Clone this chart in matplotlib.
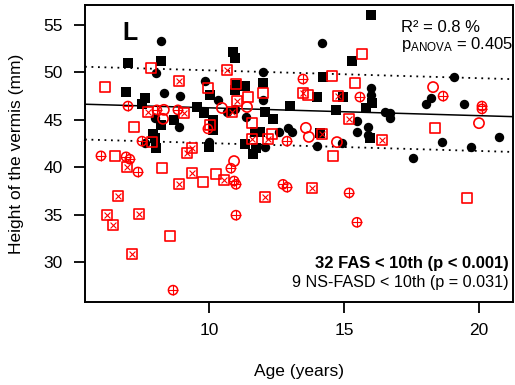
import matplotlib

matplotlib.use("Agg")
import matplotlib.pyplot as plt
import numpy as np

plt.rcParams["font.family"] = ["Liberation Sans", "DejaVu Sans"]
plt.rcParams["mathtext.fontset"] = "custom"
plt.rcParams["mathtext.rm"] = "Liberation Sans"
plt.rcParams["mathtext.it"] = "Liberation Sans:italic"

# controls (black)
ctrl_sq_age = [7.0, 8.22, 6.93, 7.63, 7.52, 9.56, 9.81, 10.15, 10.15, 10.04,
               8.22, 8.70, 7.93, 8.0, 8.04, 10.0, 10.89, 10.96, 11.0, 11.33,
               10.96, 12.0, 13.0, 12.07, 12.37, 11.7, 11.89, 11.33, 11.74, 11.63,
               14.0, 14.96, 14.22, 15.3, 16.0, 14.7, 15.81, 16.04, 14.11, 15.96]
ctrl_sq_h = [51.0, 51.2, 47.9, 47.3, 46.7, 46.35, 45.7, 45.0, 43.9, 47.6,
             44.45, 45.0, 43.5, 43.1, 42.0, 42.1, 52.15, 51.5, 48.7, 48.6,
             48.15, 48.9, 46.45, 45.8, 45.1, 43.7, 43.7, 42.45, 42.0, 41.4,
             47.4, 47.4, 49.5, 51.2, 56.05, 46.0, 46.25, 46.8, 43.6, 43.1]

ctrl_ci_age = [8.22, 8.04, 8.33, 8.93, 9.85, 10.33, 8.0, 8.89, 10.67, 10.0,
               7.63, 10.96, 12.0, 12.0, 11.37, 12.59, 12.93, 13.07, 12.07, 14.19,
               16.0, 16.0, 16.52, 16.7, 16.7, 15.48, 15.48, 15.89, 15.89, 14.0,
               14.93, 19.07, 18.22, 18.04, 19.44, 18.63, 19.7, 20.74, 17.56]
ctrl_ci_h = [53.3, 49.95, 47.8, 47.5, 49.1, 47.1, 45.2, 44.25, 45.8, 42.65,
             42.55, 46.1, 50.05, 47.1, 45.3, 43.7, 44.15, 43.7, 42.1, 53.1,
             48.35, 47.6, 45.8, 45.7, 45.2, 44.9, 43.7, 44.25, 43.4, 42.2,
             42.55, 49.5, 47.3, 46.7, 46.7, 42.65, 42.1, 43.2, 41.0]

# FASD groups (red)
sq_age = [6.15, 7.85, 9.96, 7.22, 10.04, 7.89, 6.52, 8.26, 9.78, 10.26,
          8.56, 11.0, 11.44, 12.0, 11.59, 12.33, 13.67, 14.56, 15.41, 15.67,
          14.59, 18.37, 19.56]
sq_h = [48.45, 50.45, 48.35, 44.25, 44.45, 42.65, 41.2, 39.9, 38.45, 39.3,
        32.75, 48.8, 47.4, 47.8, 44.65, 43.5, 47.6, 49.6, 48.9, 51.95,
        41.2, 44.15, 36.75]

ci_age = [8.33, 8.30, 10.48, 11.41, 10.93, 13.59, 13.7, 14.74, 18.3, 20.0]
ci_h = [46.05, 45.1, 46.25, 46.35, 40.65, 44.15, 43.2, 42.65, 48.45, 44.65]

sqx_age = [8.89, 10.67, 7.74, 9.07, 10.85, 11.04, 13.48, 14.78, 15.19, 16.41,
           14.19, 11.59, 12.19, 9.19, 9.37, 6.96, 9.37, 8.89, 10.56, 6.63,
           6.22, 6.44, 7.41, 7.15, 12.07, 13.81]
sqx_h = [49.1, 50.25, 45.8, 45.7, 45.8, 47.0, 47.8, 47.5, 45.1, 42.85,
         43.5, 43.0, 43.0, 41.5, 42.0, 40.0, 39.4, 38.2, 38.65, 37.0,
         34.95, 33.9, 35.05, 30.85, 36.85, 37.8]

cip_age = [7.0, 8.07, 8.85, 9.96, 7.52, 6.0, 6.93, 7.07, 7.37, 10.81,
           10.93, 11.0, 11.0, 8.67, 12.74, 12.89, 15.19, 15.48, 13.48, 15.59,
           18.67, 20.11, 20.11, 12.89]
cip_h = [46.45, 46.05, 46.05, 44.05, 42.75, 41.2, 41.1, 40.85, 39.5, 39.9,
         38.55, 38.2, 34.95, 27.05, 38.2, 37.9, 37.3, 34.2, 49.3, 47.4,
         47.5, 46.45, 46.15, 42.75]

# regression on controls, with 10th/90th percentile band
fit_intercept = 47.09
fit_slope = -0.0826
band_hi = 3.95
band_lo = -3.72

RED = "#ff0000"

fig = plt.figure(figsize=(5.15, 3.85), dpi=100)
ax = fig.add_axes([85 / 515, 83 / 385, 428 / 515, 297 / 385])

xs = np.array([5.41, 21.26])
yfit = fit_intercept + fit_slope * xs
ax.plot(xs, yfit, color="black", lw=1.1, zorder=1)
ax.plot(xs, yfit + band_hi, color="black", lw=1.3, ls=(0, (1, 2.6)), zorder=1)
ax.plot(xs, yfit + band_lo, color="black", lw=1.3, ls=(0, (1, 2.6)), zorder=1)

ax.scatter(ctrl_sq_age, ctrl_sq_h, marker="s", s=52, color="black", lw=0, zorder=2)
ax.scatter(ctrl_ci_age, ctrl_ci_h, marker="o", s=46, color="black", lw=0, zorder=2)

ax.scatter(sq_age, sq_h, marker="s", s=54, facecolor="none", edgecolor=RED, lw=1.2, zorder=3)
ax.scatter(ci_age, ci_h, marker="o", s=54, facecolor="none", edgecolor=RED, lw=1.2, zorder=3)
ax.scatter(sqx_age, sqx_h, marker="s", s=54, facecolor="none", edgecolor=RED, lw=1.2, zorder=3)
ax.scatter(sqx_age, sqx_h, marker="x", s=18, color=RED, lw=0.8, zorder=3)
ax.scatter(cip_age, cip_h, marker="o", s=44, facecolor="none", edgecolor=RED, lw=1.1, zorder=3)
ax.scatter(cip_age, cip_h, marker="+", s=44, color=RED, lw=0.8, zorder=3)

ax.set_xlim(5.41, 21.26)
ax.set_ylim(25.8, 57.1)
ax.set_xticks([10, 15, 20])
ax.set_yticks([30, 35, 40, 45, 50, 55])
ax.tick_params(direction="out", length=8, width=1.3, labelsize=12.5, pad=7)
ax.tick_params(axis="y", pad=8)
for sp in ax.spines.values():
    sp.set_linewidth(1.4)

ax.set_xlabel("Age (years)", fontsize=12.5, labelpad=19)
ax.set_ylabel("Height of the vermis (mm)", fontsize=12.5, labelpad=14)

ax.text(0.105, 0.905, "L", transform=ax.transAxes, fontsize=18, fontweight="bold",
        ha="center", va="center")
ax.text(0.738, 0.925, "R\u00b2 = 0.8 %", transform=ax.transAxes, fontsize=12, va="center")
ax.text(0.738, 0.868, r"p$_{\mathrm{ANOVA}}$ = 0.405", transform=ax.transAxes,
        fontsize=12, va="center")
ax.text(0.99, 0.131, "32 FAS < 10th (p < 0.001)", transform=ax.transAxes, fontsize=11.9,
        fontweight="bold", ha="right", va="center")
ax.text(0.99, 0.064, "9 NS-FASD < 10th (p = 0.031)", transform=ax.transAxes, fontsize=11.6,
        ha="right", va="center")

fig.savefig("out.png", dpi=100)
